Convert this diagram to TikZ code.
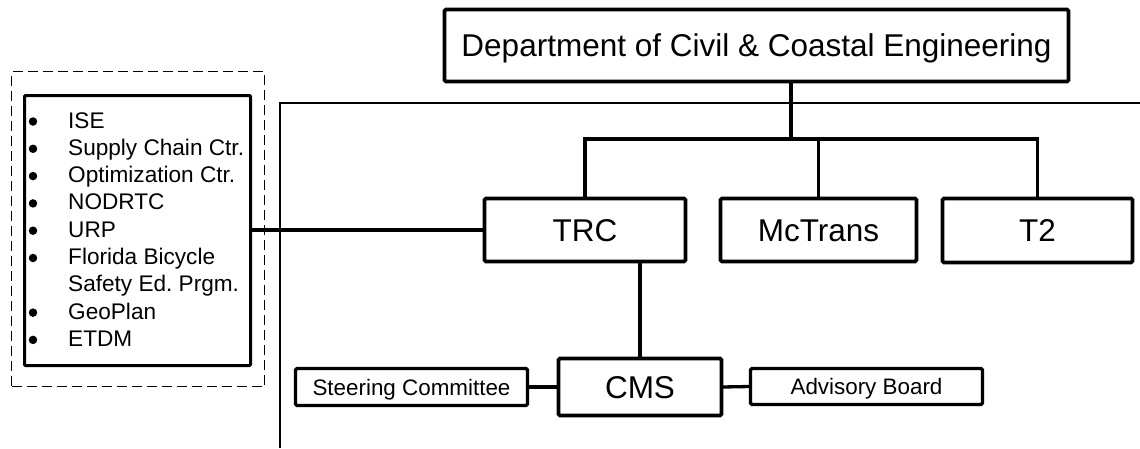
\documentclass[tikz,border=0pt]{standalone}
\usepackage{fontspec}
\setmainfont{Liberation Sans}
\frenchspacing
\begin{document}
\begin{tikzpicture}[x=1pt,y=-1pt,
  box/.style={draw, line width=3.6pt, rounded corners=1.5pt, inner sep=0pt, outer sep=0pt, font=\fontsize{31.5}{36}\selectfont, text height=22.5pt, text depth=0pt},
  smallbox/.style={box, line width=3.4pt, font=\fontsize{22.4}{26}\selectfont, text height=16pt},
  conn/.style={line width=3.3pt},
  frameline/.style={line width=1.8pt},
  groupbox/.style={draw, dash pattern=on 10pt off 5pt, line width=1.5pt, inner sep=0pt, outer sep=0pt},
  listbox/.style={draw, line width=3pt, rounded corners=1pt, inner sep=0pt, outer sep=0pt},
  itemtext/.style={anchor=base west, inner sep=0pt, font=\fontsize{22.6}{27}\selectfont},
  itemdot/.style={circle, fill, inner sep=0pt, minimum size=8.5pt}]
\useasboundingbox (0,0) rectangle (1140,448);
% outer frame (open towards right and bottom)
\coordinate (fb) at (280,448);
\coordinate (fc) at (280,103);
\coordinate (fr) at (1140,103);
\draw[frameline] (fb) -- (fc) -- (fr);
% nodes
\node[box, minimum width=624pt, minimum height=72pt] (dept) at (756.5,45.5) {Department of Civil \& Coastal Engineering};
\node[box, minimum width=201pt, minimum height=63pt] (trc) at (585,230) {TRC};
\node[box, minimum width=196pt, minimum height=63pt] (mctrans) at (818.5,230) {McTrans};
\node[box, minimum width=190pt, minimum height=64pt] (t2) at (1037.5,230.5) {T2};
\node[box, minimum width=163pt, minimum height=57pt] (cms) at (640,387) {CMS};
\node[smallbox, minimum width=232pt, minimum height=37pt] (steer) at (411.5,387) {Steering Committee};
\node[smallbox, minimum width=232pt, minimum height=36pt] (adv) at (866.5,386.5) {Advisory Board};
\node[groupbox, minimum width=253pt, minimum height=315pt] (grp) at (138,229) {};
\node[listbox, minimum width=226pt, minimum height=270pt] (list) at (137.5,230.5) {};
% list items
\foreach \t [count=\i from 0] in {ISE,Supply Chain Ctr.,Optimization Ctr.,NODRTC,URP,Florida Bicycle,Safety Ed. Prgm.,GeoPlan,ETDM}{
  \node[itemtext] (it\i) at (68,128+27.3*\i) {\t};
}
\foreach \i in {0,1,2,3,4,5,7,8}{
  \node[itemdot] (dot\i) at (33,121.5+27.3*\i) {};
}
% connectors
\coordinate (bj) at (791,139);
\draw[conn] (bj |- dept.south) -- (bj);
\draw[conn] (trc.north) -- (trc.north |- bj) -- (t2.north |- bj) -- (t2.north);
\draw[conn] (mctrans.north) -- (mctrans.north |- bj);
\draw[conn] (cms.north) -- (cms.north |- trc.south);
\draw[conn] (steer.east) -- (cms.west);
\draw[conn] (cms.east) -- (adv.west);
\draw[conn] (list.east |- trc.west) -- (trc.west);
\end{tikzpicture}
\end{document}
